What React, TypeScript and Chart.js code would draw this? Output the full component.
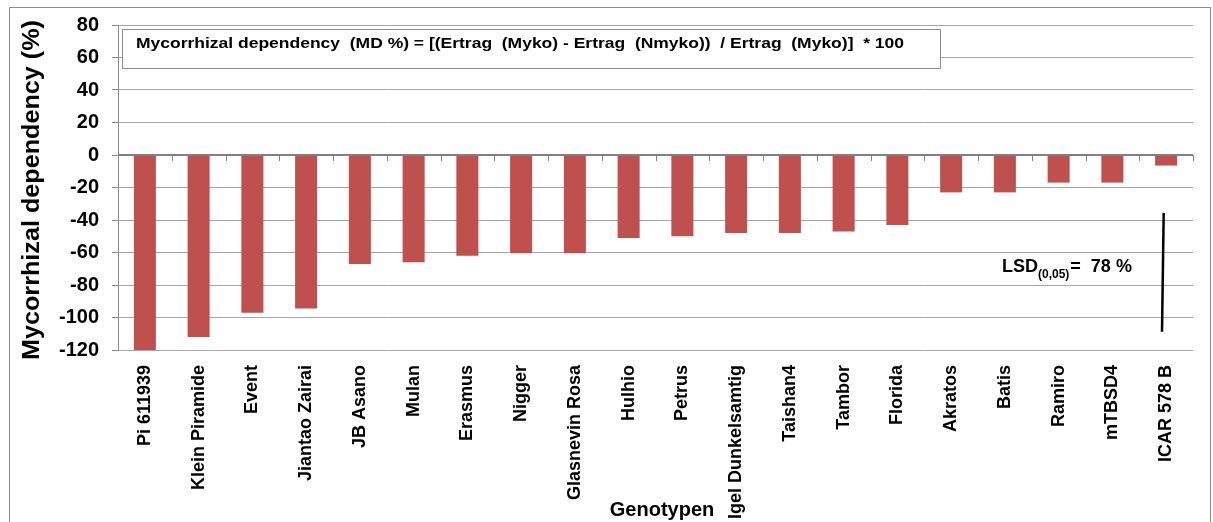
import React, { useEffect, useRef } from "react";
import { Chart, registerables } from "chart.js";

Chart.register(...registerables);

const genotypes = [
  "Pi 611939",
  "Klein Piramide",
  "Event",
  "Jiantao Zairai",
  "JB Asano",
  "Mulan",
  "Erasmus",
  "Nigger",
  "Glasnevin Rosa",
  "Hulhio",
  "Petrus",
  "Igel Dunkelsamtig",
  "Taishan4",
  "Tambor",
  "Florida",
  "Akratos",
  "Batis",
  "Ramiro",
  "mTBSD4",
  "ICAR 578 B",
];

const mdValues = [
  -120, -112, -97, -94.5, -67, -66, -62, -60.5, -60.5, -51, -50, -48, -48, -47,
  -43, -23, -23, -17, -17, -6.5,
];

const yTicks = [80, 60, 40, 20, 0, -20, -40, -60, -80, -100, -120];

const formulaText =
  "Mycorrhizal dependency  (MD %) = [(Ertrag  (Myko) - Ertrag  (Nmyko))  / Ertrag  (Myko)]  * 100";
const yTitle = "Mycorrhizal dependency (%)";
const xTitle = "Genotypen";
const lsdMain = "LSD";
const lsdSub = "(0,05)";
const lsdValue = "=  78 %";

const FONT = "'Liberation Sans', Arial, sans-serif";

const decorPlugin = {
  id: "decor",
  beforeDraw(chart: any) {
    const ctx = chart.ctx;
    ctx.save();
    ctx.fillStyle = "#ffffff";
    ctx.fillRect(0, 0, chart.width, chart.height);
    ctx.strokeStyle = "#8c8c8c";
    ctx.lineWidth = 1;
    ctx.strokeRect(9.5, 7.5, 1201, 540);
    ctx.restore();
  },
  afterDatasetsDraw(chart: any) {
    const ctx = chart.ctx;
    const area = chart.chartArea;
    const y = chart.scales.y;
    const y0 = Math.round(y.getPixelForValue(0));
    ctx.save();
    ctx.strokeStyle = "#808080";
    ctx.lineWidth = 2;
    ctx.beginPath();
    ctx.moveTo(area.left, y0);
    ctx.lineTo(area.right, y0);
    ctx.stroke();
    ctx.lineWidth = 1;
    const n = genotypes.length;
    const w = (area.right - area.left) / n;
    ctx.beginPath();
    for (let i = 1; i <= n; i++) {
      const x = Math.round(area.left + i * w) + 0.5;
      ctx.moveTo(x, y0);
      ctx.lineTo(x, y0 + 6);
    }
    ctx.stroke();
    ctx.restore();
  },
  afterDraw(chart: any) {
    const ctx = chart.ctx;
    ctx.save();
    // formula box
    ctx.fillStyle = "#ffffff";
    ctx.fillRect(122.5, 29.5, 818, 39);
    ctx.strokeStyle = "#8c8c8c";
    ctx.lineWidth = 1;
    ctx.strokeRect(122.5, 29.5, 818, 39);
    ctx.fillStyle = "#000000";
    ctx.textBaseline = "alphabetic";
    ctx.textAlign = "left";
    ctx.font = `bold 15px ${FONT}`;
    const fw = ctx.measureText(formulaText).width;
    ctx.save();
    ctx.translate(136, 48);
    ctx.scale(768 / fw, 1);
    ctx.fillText(formulaText, 0, 0);
    ctx.restore();

    // y title
    ctx.save();
    ctx.font = `bold 23px ${FONT}`;
    const tw = ctx.measureText(yTitle).width;
    ctx.translate(33, 190);
    ctx.rotate(-Math.PI / 2);
    ctx.scale(340 / tw, 1);
    ctx.textAlign = "center";
    ctx.textBaseline = "middle";
    ctx.fillText(yTitle, 0, 0);
    ctx.restore();

    // x title
    ctx.save();
    ctx.font = `bold 20px ${FONT}`;
    ctx.textAlign = "center";
    ctx.textBaseline = "alphabetic";
    ctx.fillText(xTitle, 662, 516);
    ctx.restore();

    // LSD annotation
    let x = 1002;
    ctx.font = `bold 18px ${FONT}`;
    ctx.fillText(lsdMain, x, 271.5);
    x += ctx.measureText(lsdMain).width;
    ctx.font = `bold 12px ${FONT}`;
    ctx.fillText(lsdSub, x, 278);
    x += ctx.measureText(lsdSub).width;
    ctx.font = `bold 18px ${FONT}`;
    ctx.fillText(lsdValue, x + 1, 271.5);

    ctx.strokeStyle = "#000000";
    ctx.lineWidth = 2.5;
    ctx.beginPath();
    ctx.moveTo(1163.7, 213);
    ctx.lineTo(1162, 331.7);
    ctx.stroke();
    ctx.restore();
  },
};

export default function App() {
  const ref = useRef<HTMLCanvasElement | null>(null);

  useEffect(() => {
    if (!ref.current) return;
    const chart = new Chart(ref.current, {
      type: "bar",
      data: {
        labels: genotypes,
        datasets: [
          {
            data: mdValues,
            backgroundColor: "#C0504D",
            borderWidth: 0,
            barPercentage: 0.41,
            categoryPercentage: 1,
          },
        ],
      },
      options: {
        animation: false,
        responsive: false,
        devicePixelRatio: 1,
        layout: { padding: { top: 25, right: 20, left: 0, bottom: 0 } },
        plugins: {
          legend: { display: false },
          tooltip: { enabled: false },
          title: { display: false },
        },
        scales: {
          x: {
            grid: { display: false, drawTicks: false },
            border: { display: false },
            ticks: {
              autoSkip: false,
              minRotation: 90,
              maxRotation: 90,
              padding: 15,
              color: "#000000",
              font: { family: FONT, weight: "bold", size: 18 },
            },
            afterFit: (s: any) => {
              s.height = 172;
            },
          },
          y: {
            min: -120,
            max: 80,
            afterBuildTicks: (s: any) => {
              s.ticks = yTicks.map((v) => ({ value: v }));
            },
            afterFit: (s: any) => {
              s.width = 118;
            },
            ticks: {
              padding: 13,
              color: "#000000",
              font: { family: FONT, weight: "bold", size: 20 },
            },
            grid: {
              color: "#a6a6a6",
              lineWidth: 1,
              tickLength: 6,
              tickColor: "#8c8c8c",
              tickWidth: 1,
            },
            border: { color: "#8c8c8c", width: 1 },
          },
        },
      },
      plugins: [decorPlugin],
    } as any);
    return () => chart.destroy();
  }, []);

  return (
    <div
      style={{
        position: "fixed",
        left: 0,
        top: 0,
        width: 1213,
        height: 522,
        background: "#ffffff",
      }}
    >
      <canvas
        ref={ref}
        width={1213}
        height={522}
        style={{ display: "block", width: 1213, height: 522 }}
      />
    </div>
  );
}
